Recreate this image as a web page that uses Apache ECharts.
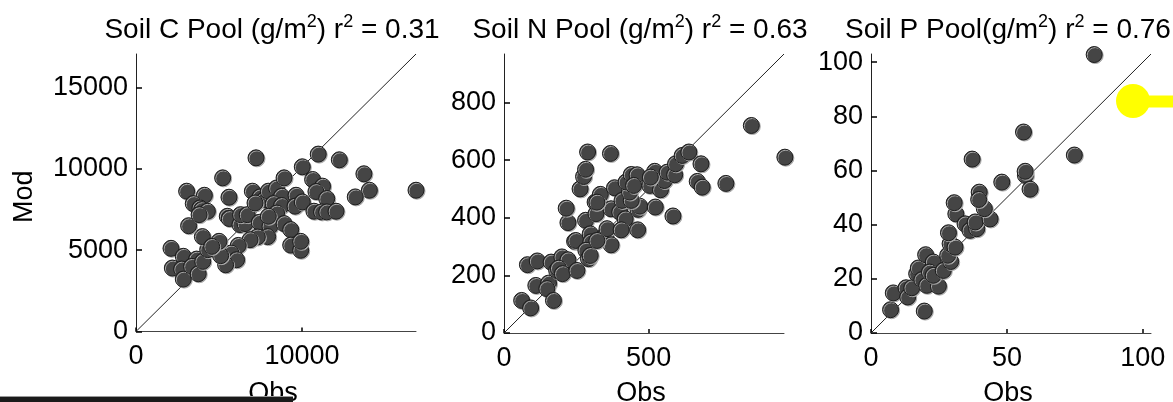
<!DOCTYPE html>
<html><head><meta charset="utf-8">
<style>html,body{margin:0;padding:0;background:#fff}#c{width:1173px;height:402px}</style>
<script src="https://cdn.jsdelivr.net/npm/echarts@6/dist/echarts.min.js"></script>
</head><body><div id="c"></div>
<script>
const titles=["Soil C Pool (g/m{s|2}) r{s|2} = 0.31","Soil N Pool (g/m{s|2}) r{s|2} = 0.63","Soil P Pool(g/m{s|2}) r{s|2} = 0.76"];
const xName="Obs", yName="Mod";
const soilC=[[2108,5110],[2190,3900],[2850,4620],[2750,3840],[2850,3220],[3650,4450],[3350,4000],[3750,3550],[4020,4310],[4320,5030],[4000,5830],[3170,6500],[3050,8620],[4120,8370],[3450,7860],[3850,7590],[3960,7490],[4300,7390],[3800,7180],[5220,9440],[5600,8250],[5500,7080],[5620,6940],[6260,6570],[6570,6630],[6300,7180],[6700,7180],[7230,10670],[7010,8620],[7470,8270],[7730,8100],[7170,7900],[7970,8620],[8470,8820],[8770,8310],[8270,7860],[8770,7740],[8470,7280],[8920,9440],[10020,10120],[10980,10900],[12250,10550],[13730,9690],[14060,8680],[13210,8270],[16870,8680],[10640,9340],[11240,8930],[10840,8600],[11490,8170],[9640,8370],[9580,7700],[10020,7960],[10720,7390],[11180,7350],[11490,7350],[12050,7390],[7430,6710],[8070,6460],[7970,7080],[8920,6630],[9320,6260],[9320,5310],[9920,4990],[9920,5540],[7930,5830],[7310,5810],[6870,5640],[6160,5290],[5720,4820],[6060,4410],[5400,4100],[5100,4660],[5000,5540],[4560,5230]];
const soilN=[[61,113],[92,87],[81,237],[115,250],[110,165],[154,173],[148,154],[171,113],[163,246],[200,264],[221,254],[182,217],[188,225],[202,206],[252,217],[244,318],[248,321],[221,383],[215,433],[263,500],[275,543],[282,568],[289,628],[368,623],[282,391],[318,414],[315,454],[333,481],[298,344],[300,316],[283,287],[292,258],[298,269],[344,327],[352,344],[356,362],[370,306],[321,321],[382,504],[370,431],[400,420],[419,396],[405,358],[462,358],[463,429],[469,440],[408,460],[440,460],[434,489],[422,524],[440,550],[460,549],[448,512],[504,512],[523,437],[521,561],[541,497],[554,529],[564,558],[590,549],[593,587],[584,406],[616,616],[639,628],[681,587],[668,526],[685,506],[767,519],[855,720],[971,610],[506,541],[321,454]];
const soilP=[[7.2,8.6],[8.2,14.8],[12.9,16.7],[13.5,13.3],[15,16.7],[19.6,8.1],[16.8,21.9],[17.4,24],[18.7,19.7],[20.5,17.6],[24.8,17.3],[20.1,28.9],[22.9,26.2],[21.5,22.5],[22.9,21.3],[26.6,23.1],[29.3,26.4],[28.2,28.7],[29.1,33],[30.9,31.7],[28.5,37],[31.2,44],[30.6,48.1],[34.6,40.3],[36.4,37.9],[38.9,38.5],[38.3,41],[43.8,42.1],[41.7,45.9],[39.8,52],[39.6,49.3],[37.2,64.2],[48.1,55.7],[56.1,74.2],[56.8,58.2],[56.7,59.7],[58.5,53.1],[74.8,65.7],[82.1,102.8]];
const datasets=[soilC,soilN,soilP];
const xMax=[16870,968,103], yMax=[17050,968,103];
const xInterval=[10000,500,50], yInterval=[5000,200,20];
const layout=[{l:136,w:280,t:54,h:277.5,tx:267},{l:504,w:280,t:54,h:279,tx:635},{l:871,w:280,t:54,h:279,tx:1003}];
const fontFam='"Liberation Sans",Arial,sans-serif';
const plain=v=>String(v);
const option={animation:false,backgroundColor:'#fff',
 title:titles.map((t,i)=>({text:t,left:layout[i].tx,top:8,textAlign:'center',
   textStyle:{color:'#000',fontSize:28,fontWeight:'normal',fontFamily:fontFam,
     rich:{s:{fontSize:18,fontFamily:fontFam,color:'#000',padding:[0,0,17,0]}}}})),
 grid:layout.map(g=>({left:g.l,top:g.t,width:g.w,height:g.h,containLabel:false,outerBoundsMode:'none'})),
 xAxis:layout.map((g,i)=>({gridIndex:i,type:'value',min:0,max:xMax[i],interval:xInterval[i],
   name:xName,nameLocation:'middle',nameGap:i===0?49:47,nameTextStyle:{fontSize:27,color:'#000',fontFamily:fontFam,padding:[0,6,0,0]},
   splitLine:{show:false},axisLine:{onZero:false,lineStyle:{color:'#444',width:1}},
   axisTick:{show:true,inside:true,length:4,lineStyle:{color:'#000',width:1.5}},
   axisLabel:{fontSize:27,color:'#000',fontFamily:fontFam,margin:12,showMaxLabel:false,hideOverlap:false,formatter:plain}})),
 yAxis:layout.map((g,i)=>({gridIndex:i,type:'value',min:0,max:yMax[i],interval:yInterval[i],
   name:i===0?yName:'',nameLocation:'middle',nameGap:98,nameTextStyle:{fontSize:27,color:'#000',fontFamily:fontFam,padding:[0,8,0,0]},
   splitLine:{show:false},axisLine:{onZero:false,lineStyle:{color:'#222',width:1}},
   axisTick:{show:true,inside:true,length:6,lineStyle:{color:'#000',width:1.5}},
   axisLabel:{fontSize:27,color:'#000',fontFamily:fontFam,margin:8,showMaxLabel:false,hideOverlap:false,formatter:plain}})),
 series:[
  ...datasets.map((d,i)=>({type:'line',xAxisIndex:i,yAxisIndex:i,silent:true,symbol:'none',z:1,clip:false,
     lineStyle:{color:'#222',width:1},data:[[0,0],[xMax[i],yMax[i]]]})),
  ...datasets.map((d,i)=>({type:'scatter',xAxisIndex:i,yAxisIndex:i,symbolSize:16,z:2,clip:false,
     itemStyle:{color:'#454545',opacity:1,borderColor:'#1c1c1c',borderWidth:1,shadowColor:'#aaa',shadowBlur:0,shadowOffsetX:1,shadowOffsetY:1},data:d}))
 ],
 graphic:[
  {type:'circle',shape:{cx:1133,cy:101,r:17},style:{fill:'#ffff00'},z:10},
  {type:'rect',shape:{x:1148,y:95.5,width:25,height:12},style:{fill:'#ffff00'},z:10},
  {type:'rect',shape:{x:0,y:396,width:293,height:1},style:{fill:'#999'},z:11},
  {type:'rect',shape:{x:0,y:397,width:293,height:5},style:{fill:'#1a1a1a'},z:11}
 ]};
echarts.init(document.getElementById('c'),null,{renderer:'canvas'}).setOption(option);
</script></body></html>
